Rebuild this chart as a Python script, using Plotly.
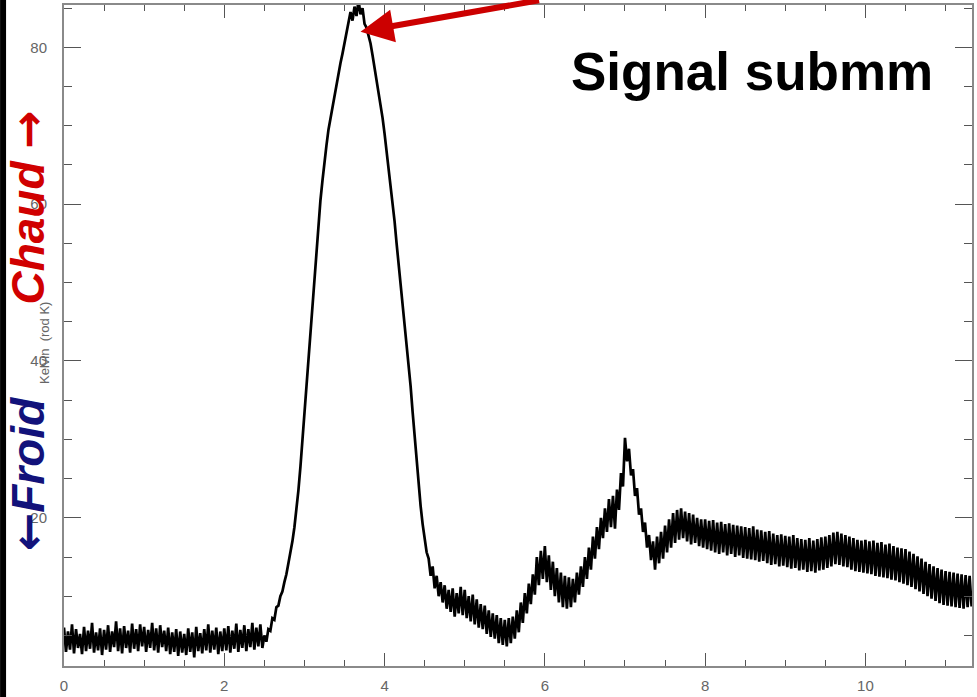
import plotly.graph_objects as go

# ---- data ----
X_START = 0.0
X_STEP = 0.025
signal = [
    # 0.0 - 0.475
    6.0, 2.9, 5.5, 3.2, 6.4, 2.7, 5.8, 3.4, 5.2, 2.6, 6.1, 3.0, 5.6, 3.3, 6.6, 2.8, 5.4, 3.1, 5.9, 2.5,
    # 0.5
    5.7, 3.2, 6.3, 2.9, 5.5, 3.5, 6.8, 3.0, 5.9, 2.7, 6.2, 3.4, 5.6, 2.8, 6.5, 3.3, 5.8, 3.0, 6.4, 3.6,
    # 1.0
    6.1, 2.9, 5.7, 3.4, 6.6, 3.1, 5.9, 2.8, 6.3, 3.5, 5.6, 3.0, 6.0, 2.6, 5.4, 2.9, 5.8, 2.4, 5.5, 2.8,
    # 1.5
    5.2, 2.5, 5.9, 2.9, 5.4, 2.2, 6.1, 3.0, 5.3, 2.7, 5.8, 3.1, 6.4, 2.8, 5.6, 3.2, 6.0, 2.6, 5.5, 3.0,
    # 2.0
    5.9, 3.1, 6.2, 2.8, 5.6, 3.3, 6.5, 2.9, 5.7, 3.4, 6.3, 3.0, 5.8, 3.5, 6.6, 3.2, 6.0, 3.6, 6.4, 3.4,
    # 2.5
    5.0, 4.2, 5.8, 5.6, 7.2, 7.0, 8.6, 8.8, 10.0, 10.6, 11.8, 12.8, 14.2, 15.4, 17.0, 18.8, 21.0, 23.5, 26.5, 30.0,
    # 3.0
    33.5, 37.0, 40.5, 44.0, 47.5, 51.0, 54.5, 57.5, 60.5, 63.0, 65.5, 67.5, 69.5, 71.0, 72.5, 73.8, 75.0, 76.5, 78.0, 79.2,
    # 3.5
    80.5, 81.8, 82.8, 84.5, 83.4, 85.2, 84.0, 86.0, 84.2, 85.0, 83.0, 82.5, 81.5, 80.5, 79.0, 77.5, 76.0, 74.5, 72.5, 71.0,
    # 4.0
    69.0, 66.8, 64.5, 62.5, 60.5, 57.8, 55.0, 52.5, 50.0, 47.5, 45.0, 42.5, 40.0, 36.8, 33.5, 30.2, 27.0, 24.2, 21.5, 19.2,
    # 4.5
    17.2, 15.6, 14.8, 12.6, 13.8, 11.0, 12.6, 10.0, 11.8, 9.2, 11.4, 8.4, 10.8, 8.0, 11.0, 7.4, 10.4, 7.8, 11.2, 7.6,
    # 5.0
    10.8, 7.2, 10.0, 6.8, 10.2, 6.4, 9.6, 6.0, 9.0, 5.8, 8.8, 5.2, 8.2, 4.8, 7.8, 4.6, 7.6, 4.0, 7.2, 3.8,
    # 5.5
    7.0, 3.6, 7.2, 4.0, 7.4, 4.6, 8.2, 5.4, 9.2, 6.6, 10.4, 7.8, 11.6, 9.0, 12.8, 10.2, 15.0, 11.4, 15.8, 12.2,
    # 6.0
    16.4, 11.8, 15.2, 10.8, 14.4, 10.0, 13.6, 9.2, 13.0, 8.6, 12.6, 8.4, 12.4, 8.6, 12.2, 9.2, 13.0, 10.2, 13.8, 11.2,
    # 6.5
    15.0, 12.2, 16.2, 13.4, 17.6, 14.8, 18.8, 16.0, 20.0, 17.4, 21.2, 18.2, 22.4, 18.8, 22.8, 18.6, 23.6, 21.0, 25.7, 24.0,
    # 7.0
    30.2, 27.2, 28.8, 25.4, 26.2, 22.8, 23.8, 20.4, 21.2, 18.2, 19.4, 16.2, 17.8, 14.6, 17.0, 13.4, 17.6, 14.2, 18.2, 14.8,
    # 7.5
    19.0, 15.6, 19.8, 16.2, 20.6, 16.8, 21.0, 17.2, 21.2, 17.4, 20.8, 17.0, 20.6, 16.6, 20.4, 16.8, 20.0, 16.4, 19.8, 16.2,
    # 8.0
    19.8, 16.0, 19.6, 15.8, 19.7, 15.6, 19.4, 15.4, 19.5, 15.6, 19.2, 15.2, 19.3, 15.4, 19.1, 15.0, 19.0, 15.2, 18.9, 14.9,
    # 8.5
    18.8, 14.8, 18.7, 14.7, 18.9, 14.6, 18.5, 14.4, 18.4, 14.5, 18.2, 14.2, 18.3, 14.0, 18.0, 14.1, 17.8, 13.8, 17.9, 13.9,
    # 9.0
    17.7, 13.7, 17.6, 13.5, 17.8, 13.6, 17.4, 13.3, 17.3, 13.4, 17.2, 13.1, 17.4, 13.2, 17.1, 13.0, 17.3, 13.3, 17.5, 13.4,
    # 9.5
    17.6, 13.6, 17.8, 13.8, 18.1, 14.1, 18.2, 14.0, 18.0, 13.8, 17.8, 13.7, 17.6, 13.4, 17.4, 13.2, 17.2, 13.1, 17.1, 13.0,
    # 10.0
    17.2, 12.9, 17.0, 12.8, 17.1, 12.6, 16.8, 12.5, 16.9, 12.4, 16.6, 12.3, 16.7, 12.1, 16.4, 12.0, 16.2, 11.8, 16.1, 11.6,
    # 10.5
    16.0, 11.4, 15.7, 11.2, 15.4, 10.9, 15.1, 10.6, 14.8, 10.3, 14.4, 10.0, 14.1, 9.7, 13.8, 9.4, 13.6, 9.1, 13.4, 8.9,
    # 11.0
    13.2, 8.8, 13.1, 8.7, 13.0, 8.6, 12.9, 8.5, 12.8, 8.4, 12.7, 8.6, 12.6, 8.7,
]
x_vals = [round(X_START + i * X_STEP, 4) for i in range(len(signal))]

x_tickvals = [0, 2, 4, 6, 8, 10]
y_tickvals = [20, 40, 60, 80]
x_range = [0, 11.33]
y_range = [1.1, 85.4]

peak_x, peak_y = 3.7, 82

title_text = "Signal submm"
cold_label = "Froid"
hot_label = "Chaud"
unit_label = "Kelvin  (rod K)"

# ---- figure ----
fig = go.Figure()
fig.add_trace(go.Scatter(x=x_vals, y=signal, mode="lines",
                         line=dict(color="black", width=2.7),
                         showlegend=False, hoverinfo="skip"))

axis_common = dict(
    showgrid=False, zeroline=False, showline=True,
    linecolor="#8a8a8a", linewidth=2, mirror="ticks",
    ticks="inside", tickcolor="#555555", tickwidth=1,
    tickfont=dict(family="Liberation Sans, Arial, sans-serif", size=15, color="#666666"),
)

fig.update_layout(
    width=977, height=697,
    margin=dict(l=64, r=4, t=3, b=25),
    paper_bgcolor="white", plot_bgcolor="white",
    xaxis=dict(range=x_range, tickvals=x_tickvals, ticklen=13,
               ticklabelstandoff=5,
               minor=dict(dtick=0.5, ticklen=6, ticks="inside", tickcolor="#555555"),
               **axis_common),
    yaxis=dict(range=y_range, tickvals=y_tickvals, ticklen=17,
               ticklabelstandoff=12,
               minor=dict(dtick=5, ticklen=8, ticks="inside", tickcolor="#555555"),
               **axis_common),
)

W, H = 909, 669  # plot area size in px
def px(xp, yp):
    return (xp - 64) / W, 1 - (yp - 3) / H

# black strip at the left edge
fig.add_shape(type="rect", xref="paper", yref="paper", x0=px(0, 0)[0], x1=px(6, 0)[0],
              y0=-0.05, y1=1.05, fillcolor="black", line_width=0, layer="above")

def label(xp, yp, text, size, color, angle=0):
    ax_, ay_ = px(xp, yp)
    fig.add_annotation(x=ax_, y=ay_, xref="x domain", yref="y domain", text=text,
                       textangle=angle, showarrow=False, xanchor="center", yanchor="middle",
                       font=dict(family="Liberation Sans, Arial", size=size, color=color))

ARROW_FONT = 'font-family:DejaVu Sans;font-weight:bold'
label(753, 70, f"<b>{title_text}</b>", 53, "black")
label(28, 478, f"<span style='{ARROW_FONT}'>←</span><b><i>{cold_label}</i></b>", 46, "#12127a", -90)
label(45, 345, unit_label, 13, "#666666", -90)
label(28, 208, f"<b><i>{hot_label}</i></b> <span style='{ARROW_FONT}'>→</span>", 46, "#d00000", -90)

# red arrow pointing at the peak
fig.add_annotation(x=peak_x, y=peak_y, xref="x", yref="y", text="",
                   showarrow=True, ax=180, ay=-34, axref="pixel", ayref="pixel",
                   arrowhead=2, arrowsize=1.1, arrowwidth=6, arrowcolor="#cc0000",
                   standoff=0)

fig.write_html("out.html")
